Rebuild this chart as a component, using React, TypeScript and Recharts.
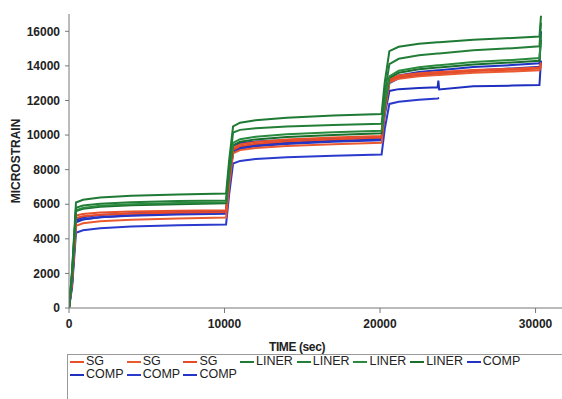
import React from "react";
import { LineChart, Line, XAxis, YAxis } from "recharts";

const TIME = [
  0, 200, 450, 900, 2000, 4000, 7000, 10100, 10300, 10550, 11000, 12000, 14000, 17000, 20100,
  20300, 20600, 21200, 22500, 23700, 23750, 23800, 26000, 28500, 30250, 30350,
];

const SG_1 = [0, 1800, 5350, 5440, 5515, 5575, 5620, 5650, 7450, 9250, 9460, 9600, 9740, 9860, 9950, 11600, 13250, 13445, 13575, 13640, 13640, 13645, 13760, 13835, 13900, 14200];
const SG_2 = [0, 1500, 4750, 4895, 5015, 5110, 5180, 5230, 7090, 8950, 9130, 9250, 9370, 9470, 9550, 11300, 13050, 13260, 13400, 13470, 13470, 13475, 13600, 13680, 13750, 14000];
const SG_3 = [0, 1700, 5200, 5305, 5390, 5460, 5515, 5550, 7350, 9150, 9360, 9500, 9640, 9760, 9850, 11500, 13150, 13360, 13500, 13570, 13570, 13575, 13700, 13780, 13850, 14100];
const LINER_1 = [0, 2200, 6100, 6255, 6385, 6490, 6570, 6620, 8560, 10500, 10715, 10860, 11005, 11125, 11220, 13035, 14850, 15105, 15275, 15360, 15360, 15365, 15515, 15615, 15700, 16900];
const LINER_2 = [0, 2100, 5800, 5925, 6030, 6115, 6180, 6220, 8185, 10150, 10300, 10400, 10500, 10585, 10650, 12375, 14100, 14410, 14615, 14720, 14720, 14720, 14905, 15025, 15130, 16500];
const LINER_3 = [0, 2000, 5650, 5790, 5910, 6000, 6075, 6120, 7835, 9550, 9760, 9900, 10040, 10160, 10250, 11825, 13400, 13715, 13925, 14030, 14030, 14030, 14220, 14345, 14450, 15800];
const LINER_4 = [0, 1900, 5600, 5735, 5850, 5940, 6005, 6050, 7725, 9400, 9610, 9750, 9890, 10010, 10100, 11700, 13300, 13600, 13800, 13900, 13900, 13900, 14080, 14200, 14300, 15500];
const COMP_1 = [0, 1600, 5100, 5250, 5375, 5475, 5550, 5600, 7500, 9400, 9535, 9625, 9715, 9790, 9850, 11500, 13150, 13450, 13650, 13750, 13750, 13750, 13930, 14050, 14150, 16000];
const COMP_2 = [0, 1400, 4950, 5115, 5250, 5360, 5445, 5500, 7300, 9100, 9295, 9425, 9555, 9665, 9750, 11150, 12550, 12655, 12725, 12760, 13150, 12640, 12820, 12860, 12900, 14300];
const COMP_3 = [0, 1200, 4350, 4495, 4615, 4710, 4785, 4830, 6590, 8350, 8505, 8610, 8715, 8800, 8870, 10335, 11800, 11930, 12040, 12120, 12130, 12140, null, null, null, null];
const COMP_4 = [0, 1450, 5000, 5135, 5250, 5340, 5405, 5450, 7225, 9000, 9210, 9350, 9490, 9610, 9700, 11350, 13000, 13285, 13475, 13570, 13570, 13570, 13740, 13855, 13950, 14300];

const NAMES = ["SG", "SG", "SG", "LINER", "LINER", "LINER", "LINER", "COMP", "COMP", "COMP", "COMP"];
const COLORS = ["#E8502C", "#EA5A30", "#E64A28", "#1E7A34", "#237F38", "#2A8A3E", "#1A6E2E", "#2233C4", "#1F2FBE", "#2A3ACC", "#2535C6"];
const VALUES = [SG_1, SG_2, SG_3, LINER_1, LINER_2, LINER_3, LINER_4, COMP_1, COMP_2, COMP_3, COMP_4];

const X_TICKS = [0, 10000, 20000, 30000];
const Y_TICKS = [0, 2000, 4000, 6000, 8000, 10000, 12000, 14000, 16000];

const data = TIME.map((t, i) => {
  const row: Record<string, number | null> = { t };
  VALUES.forEach((v, k) => {
    row["s" + k] = v[i];
  });
  return row;
});

// draw order: blue under, green on top like the original
const DRAW_ORDER = [9, 8, 10, 7, 1, 2, 0, 6, 5, 4, 3];

const FONT = '"Liberation Sans", Arial, sans-serif';

export default function App() {
  return (
    <div style={{ position: "absolute", left: 0, top: 0, width: 562, height: 399, background: "#fff", overflow: "hidden", fontFamily: FONT }}>
      <LineChart width={562} height={360} data={data} margin={{ top: 14, right: 0, left: 0, bottom: 0 }}>
        <XAxis
          dataKey="t"
          type="number"
          domain={[0, 31700]}
          ticks={X_TICKS}
          allowDataOverflow
          stroke="#777"
          tickSize={5}
          tickMargin={6}
          height={52}
          tick={{ fill: "#222", fontSize: 12, fontWeight: 700, fontFamily: FONT }}
          label={{
            content: () => (
              <text x={297} y={351} textAnchor="middle" fontSize={12} fontWeight={700} fill="#222" fontFamily={FONT} letterSpacing={-0.4}>
                TIME (sec)
              </text>
            ),
          }}
        />
        <YAxis
          type="number"
          domain={[0, 17000]}
          ticks={Y_TICKS}
          allowDataOverflow
          width={69}
          stroke="#777"
          tickSize={4}
          tickMargin={5}
          tick={{ fill: "#222", fontSize: 12, fontWeight: 700, fontFamily: FONT }}
          label={{
            content: () => (
              <text x={20} y={161} transform="rotate(-90 20 161)" textAnchor="middle" fontSize={12} fontWeight={700} fill="#222" fontFamily={FONT}>
                MICROSTRAIN
              </text>
            ),
          }}
        />
        {DRAW_ORDER.map((k) => (
          <Line
            key={k}
            dataKey={"s" + k}
            name={NAMES[k]}
            stroke={COLORS[k]}
            strokeWidth={2}
            dot={false}
            type="linear"
            isAnimationActive={false}
          />
        ))}
      </LineChart>
      <div
        style={{
          position: "absolute",
          left: 67,
          top: 354,
          width: 500,
          height: 60,
          border: "1px solid #999",
          display: "flex",
          flexWrap: "wrap",
          alignContent: "flex-start",
          boxSizing: "border-box",
        }}
      >
        {NAMES.map((n, k) => (
          <div key={k} style={{ width: 56.7, height: 13, display: "flex", alignItems: "center", fontSize: 12.5, color: "#222", lineHeight: "13px", whiteSpace: "nowrap" }}>
            <span style={{ display: "inline-block", width: 14, height: 2, background: COLORS[k], marginLeft: 2, marginRight: 2, flexShrink: 0 }} />
            <span>{n}</span>
          </div>
        ))}
      </div>
    </div>
  );
}
